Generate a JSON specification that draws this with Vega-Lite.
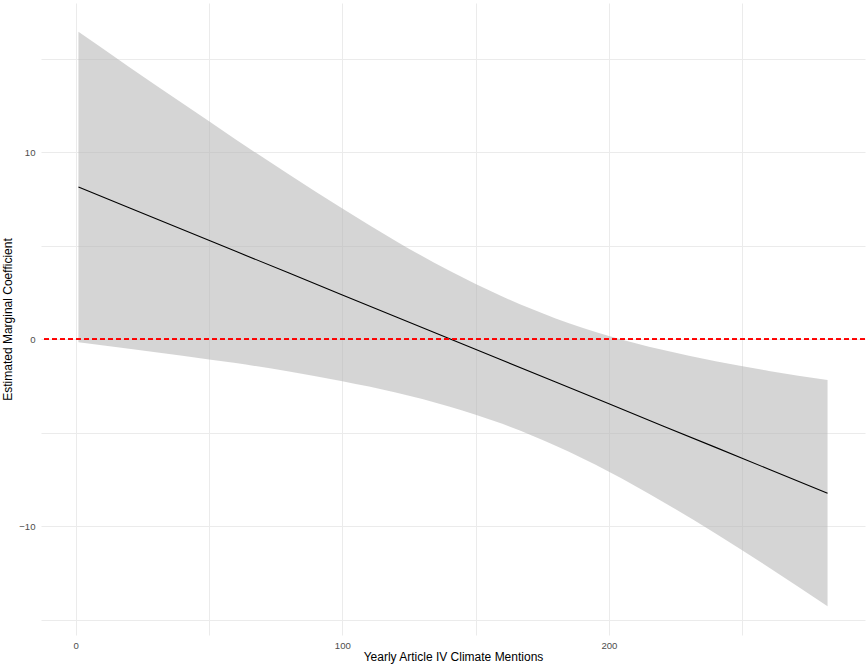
{
  "$schema": "https://vega.github.io/schema/vega-lite/v6.json",
  "width": 824,
  "height": 632,
  "autosize": {"type": "none"},
  "padding": {"left": 41, "top": 3, "right": 1, "bottom": 31},
  "background": "white",
  "config": {
    "view": {"stroke": null},
    "font": "Liberation Sans",
    "axis": {
      "domain": false,
      "ticks": false,
      "gridColor": "#EBEBEB",
      "gridWidth": 1,
      "labelColor": "#4D4D4D",
      "labelFontSize": 9.6,
      "labelFont": "Liberation Sans",
      "titleFont": "Liberation Sans",
      "titleFontSize": 12,
      "titleFontWeight": "normal",
      "titleColor": "#000000"
    }
  },
  "data": {
    "values": [
      {"x": 1, "est": 8.15, "lower": -0.16, "upper": 16.46},
      {"x": 20, "est": 7.04, "lower": -0.50, "upper": 14.58},
      {"x": 40, "est": 5.88, "lower": -0.87, "upper": 12.63},
      {"x": 60, "est": 4.71, "lower": -1.27, "upper": 10.70},
      {"x": 80, "est": 3.55, "lower": -1.72, "upper": 8.82},
      {"x": 100, "est": 2.38, "lower": -2.24, "upper": 7.00},
      {"x": 120, "est": 1.21, "lower": -2.84, "upper": 5.27},
      {"x": 140, "est": 0.05, "lower": -3.59, "upper": 3.68},
      {"x": 160, "est": -1.12, "lower": -4.52, "upper": 2.29},
      {"x": 180, "est": -2.28, "lower": -5.69, "upper": 1.12},
      {"x": 200, "est": -3.45, "lower": -7.08, "upper": 0.18},
      {"x": 220, "est": -4.62, "lower": -8.67, "upper": -0.56},
      {"x": 240, "est": -5.78, "lower": -10.39, "upper": -1.17},
      {"x": 260, "est": -6.95, "lower": -12.21, "upper": -1.69},
      {"x": 282, "est": -8.23, "lower": -14.28, "upper": -2.18}
    ]
  },
  "encoding": {
    "x": {
      "field": "x",
      "type": "quantitative",
      "title": "Yearly Article IV Climate Mentions",
      "scale": {"domain": [-13.05, 296.05], "nice": false, "zero": false},
      "axis": {
        "values": [0, 50, 100, 150, 200, 250],
        "labelExpr": "datum.value % 100 === 0 ? datum.label : ''",
        "labelPadding": 5,
        "titlePadding": 2
      }
    }
  },
  "layer": [
    {
      "mark": {"type": "area", "color": "#B3B3B3", "opacity": 0.55, "interpolate": "monotone"},
      "encoding": {
        "y": {
          "field": "lower",
          "type": "quantitative",
          "title": "Estimated Marginal Coefficient",
          "scale": {"domain": [-15.82, 18.0], "nice": false, "zero": false},
          "axis": {
            "values": [-15, -10, -5, 0, 5, 10, 15],
            "labelExpr": "datum.value % 10 === 0 ? datum.label : ''",
            "labelPadding": 6,
            "titlePadding": 4
          }
        },
        "y2": {"field": "upper"}
      }
    },
    {
      "mark": {"type": "line", "color": "#000000", "strokeWidth": 1.1, "interpolate": "linear"},
      "encoding": {
        "y": {"field": "est", "type": "quantitative"}
      }
    },
    {
      "mark": {"type": "rule", "color": "#FF0000", "opacity": 0.7, "strokeWidth": 1.1, "strokeDash": [5, 3]},
      "encoding": {
        "y": {"datum": 0, "type": "quantitative"},
        "x": null
      }
    }
  ]
}
